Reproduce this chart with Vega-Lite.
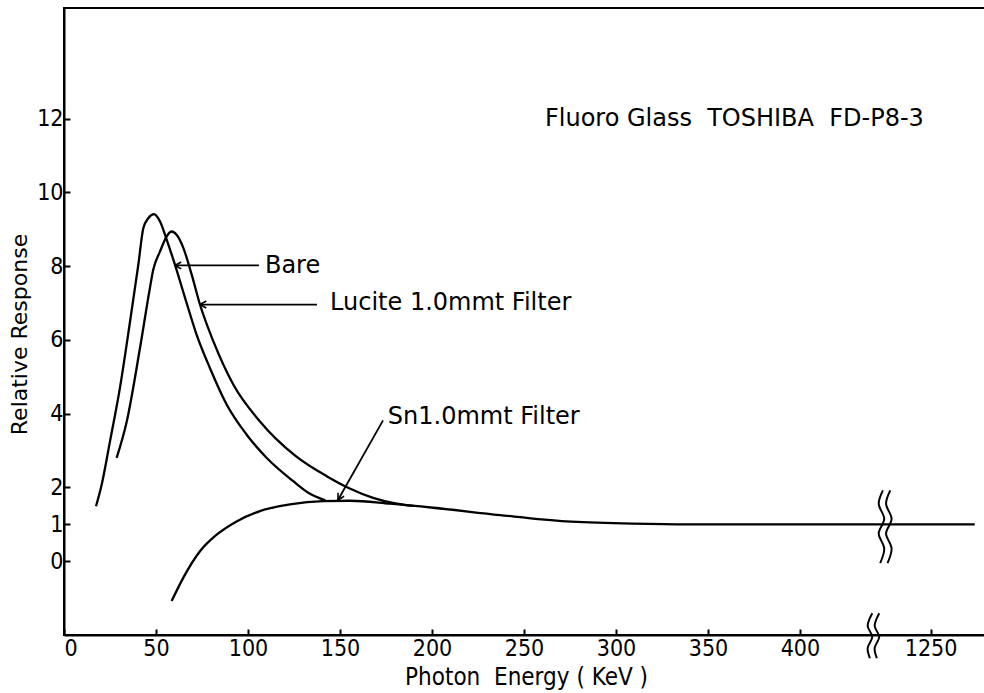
{
  "$schema": "https://vega.github.io/schema/vega-lite/v6.json",
  "width": 924,
  "height": 627,
  "autosize": "none",
  "padding": {"left": 64, "top": 8, "right": 0, "bottom": 58},
  "background": "white",
  "config": {
    "font": "DejaVu Sans",
    "view": {"stroke": "black", "strokeWidth": 2},
    "axis": {
      "grid": false,
      "domainColor": "black",
      "domainWidth": 2,
      "tickColor": "black",
      "tickWidth": 2,
      "tickSize": -6,
      "labelColor": "black",
      "labelFontSize": 23,
      "labelFont": "Liberation Sans Narrow, DejaVu Sans Condensed, sans-serif",
      "titleColor": "black",
      "titleFont": "DejaVu Sans Condensed, DejaVu Sans, sans-serif",
      "titleFontWeight": "normal",
      "titleFontSize": 24
    }
  },
  "datasets": {
    "curves": [
      {"series": "Bare", "x": 17.4, "y": 1.49},
      {"series": "Bare", "x": 20.5, "y": 2.08},
      {"series": "Bare", "x": 25.0, "y": 3.25},
      {"series": "Bare", "x": 30.4, "y": 4.7},
      {"series": "Bare", "x": 35.9, "y": 6.5},
      {"series": "Bare", "x": 40.4, "y": 8.04},
      {"series": "Bare", "x": 43.1, "y": 9.03},
      {"series": "Bare", "x": 45.8, "y": 9.3},
      {"series": "Bare", "x": 48.9, "y": 9.41},
      {"series": "Bare", "x": 52.2, "y": 9.21},
      {"series": "Bare", "x": 55.8, "y": 8.72},
      {"series": "Bare", "x": 60.3, "y": 8.04},
      {"series": "Bare", "x": 65.8, "y": 7.14},
      {"series": "Bare", "x": 72.1, "y": 6.14},
      {"series": "Bare", "x": 79.3, "y": 5.24},
      {"series": "Bare", "x": 88.4, "y": 4.25},
      {"series": "Bare", "x": 99.3, "y": 3.43},
      {"series": "Bare", "x": 110.2, "y": 2.8},
      {"series": "Bare", "x": 124.6, "y": 2.17},
      {"series": "Bare", "x": 133.0, "y": 1.85},
      {"series": "Bare", "x": 142.0, "y": 1.65},
      {"series": "Lucite", "x": 28.6, "y": 2.8},
      {"series": "Lucite", "x": 34.1, "y": 3.79},
      {"series": "Lucite", "x": 41.3, "y": 5.78},
      {"series": "Lucite", "x": 46.7, "y": 7.41},
      {"series": "Lucite", "x": 48.5, "y": 7.9},
      {"series": "Lucite", "x": 52.2, "y": 8.4},
      {"series": "Lucite", "x": 55.8, "y": 8.81},
      {"series": "Lucite", "x": 58.5, "y": 8.94},
      {"series": "Lucite", "x": 61.2, "y": 8.85},
      {"series": "Lucite", "x": 64.9, "y": 8.49},
      {"series": "Lucite", "x": 69.4, "y": 7.77},
      {"series": "Lucite", "x": 73.9, "y": 6.96},
      {"series": "Lucite", "x": 81.2, "y": 5.96},
      {"series": "Lucite", "x": 92.0, "y": 4.79},
      {"series": "Lucite", "x": 106.5, "y": 3.79},
      {"series": "Lucite", "x": 126.0, "y": 2.85},
      {"series": "Lucite", "x": 143.0, "y": 2.3},
      {"series": "Lucite", "x": 155.0, "y": 1.98},
      {"series": "Lucite", "x": 168.0, "y": 1.72},
      {"series": "Lucite", "x": 180.0, "y": 1.57},
      {"series": "Lucite", "x": 190.0, "y": 1.5},
      {"series": "Sn", "x": 58.5, "y": -1.08},
      {"series": "Sn", "x": 64.8, "y": -0.45},
      {"series": "Sn", "x": 73.9, "y": 0.27},
      {"series": "Sn", "x": 83.0, "y": 0.72},
      {"series": "Sn", "x": 93.8, "y": 1.08},
      {"series": "Sn", "x": 106.5, "y": 1.36},
      {"series": "Sn", "x": 122.8, "y": 1.54},
      {"series": "Sn", "x": 140.9, "y": 1.63},
      {"series": "Sn", "x": 155.4, "y": 1.64},
      {"series": "Sn", "x": 177.2, "y": 1.56},
      {"series": "Sn", "x": 200.7, "y": 1.45},
      {"series": "Sn", "x": 237.0, "y": 1.25},
      {"series": "Sn", "x": 273.0, "y": 1.08},
      {"series": "Sn", "x": 309.0, "y": 1.02},
      {"series": "Sn", "x": 340.0, "y": 1.0},
      {"series": "Sn", "x": 400.0, "y": 1.0},
      {"series": "Sn", "x": 495.0, "y": 1.0}
    ],
    "arrows": [
      {"id": "Bare", "x": 60.3, "y": 8.02, "x2": 106.0, "y2": 8.02},
      {"id": "Lucite", "x": 73.9, "y": 6.96, "x2": 137.5, "y2": 6.96},
      {"id": "Sn", "x": 148.9, "y": 1.66, "x2": 173.4, "y2": 3.82}
    ],
    "breaks": [
      {"id": "c1", "i": 0, "x": 445.1, "y": 1.92},
      {"id": "c1", "i": 1, "x": 442.8, "y": 1.55},
      {"id": "c1", "i": 2, "x": 445.8, "y": 1.15},
      {"id": "c1", "i": 3, "x": 442.8, "y": 0.75},
      {"id": "c1", "i": 4, "x": 445.8, "y": 0.35},
      {"id": "c1", "i": 5, "x": 443.6, "y": -0.05},
      {"id": "c2", "i": 0, "x": 449.1, "y": 1.92},
      {"id": "c2", "i": 1, "x": 446.8, "y": 1.55},
      {"id": "c2", "i": 2, "x": 449.8, "y": 1.15},
      {"id": "c2", "i": 3, "x": 446.8, "y": 0.75},
      {"id": "c2", "i": 4, "x": 449.8, "y": 0.35},
      {"id": "c2", "i": 5, "x": 447.6, "y": -0.05},
      {"id": "a1", "i": 0, "x": 439.3, "y": -1.41},
      {"id": "a1", "i": 1, "x": 436.8, "y": -1.75},
      {"id": "a1", "i": 2, "x": 439.3, "y": -2.05},
      {"id": "a1", "i": 3, "x": 436.8, "y": -2.35},
      {"id": "a1", "i": 4, "x": 438.0, "y": -2.63},
      {"id": "a2", "i": 0, "x": 443.1, "y": -1.41},
      {"id": "a2", "i": 1, "x": 440.6, "y": -1.75},
      {"id": "a2", "i": 2, "x": 443.1, "y": -2.05},
      {"id": "a2", "i": 3, "x": 440.6, "y": -2.35},
      {"id": "a2", "i": 4, "x": 441.8, "y": -2.63}
    ],
    "notes": [
      {"x": 261.4, "y": 12.0, "text": "Fluoro Glass\u00a0\u00a0TOSHIBA\u00a0\u00a0FD-P8-3"},
      {"x": 109.2, "y": 8.0, "text": "Bare"},
      {"x": 144.6, "y": 7.0, "text": "Lucite 1.0mmt Filter"},
      {"x": 176.0, "y": 3.92, "text": "Sn1.0mmt Filter"}
    ]
  },
  "encoding": {
    "x": {
      "field": "x",
      "type": "quantitative",
      "scale": {"domain": [0, 502.2], "nice": false, "zero": false},
      "axis": {
        "title": "Photon\u00a0\u00a0Energy ( KeV )",
        "values": [0, 50, 100, 150, 200, 250, 300, 350, 400, 471],
        "labelExpr": "datum.value > 450 ? '1250' : datum.label",
        "labelPadding": 8,
        "titlePadding": 5
      }
    },
    "y": {
      "field": "y",
      "type": "quantitative",
      "scale": {"domain": [-2, 15], "nice": false, "zero": false},
      "axis": {
        "title": "Relative Response",
        "values": [0, 1, 2, 4, 6, 8, 10, 12],
        "labelPadding": 7,
        "titleFont": "DejaVu Sans",
        "titleFontSize": 22,
        "titleX": -45,
        "titleY": 326,
        "titleAngle": 270,
        "titleAlign": "center",
        "titleBaseline": "middle"
      }
    }
  },
  "layer": [
    {
      "data": {"name": "curves"},
      "mark": {"type": "line", "interpolate": "monotone", "color": "black", "strokeWidth": 2.3},
      "encoding": {"detail": {"field": "series"}}
    },
    {
      "data": {"name": "arrows"},
      "mark": {"type": "rule", "color": "black", "strokeWidth": 1.8},
      "encoding": {"x2": {"field": "x2"}, "y2": {"field": "y2"}}
    },
    {
      "data": {"name": "arrows"},
      "transform": [{"filter": "datum.id !== 'Sn'"}],
      "mark": {"type": "point", "shape": "M0,0L1,-0.55M0,0L1,0.55", "filled": false, "stroke": "black", "strokeWidth": 1.6, "size": 160, "opacity": 1}
    },
    {
      "data": {"name": "arrows"},
      "transform": [{"filter": "datum.id === 'Sn'"}],
      "mark": {"type": "point", "shape": "M0,0L1,-0.55M0,0L1,0.55", "angle": 299.4, "filled": false, "stroke": "black", "strokeWidth": 1.6, "size": 160, "opacity": 1}
    },
    {
      "data": {"name": "breaks"},
      "mark": {"type": "line", "interpolate": "cardinal", "color": "black", "strokeWidth": 2},
      "encoding": {"detail": {"field": "id"}, "order": {"field": "i"}}
    },
    {
      "data": {"name": "notes"},
      "mark": {"type": "text", "align": "left", "baseline": "middle", "font": "DejaVu Sans", "fontSize": 24, "color": "black"},
      "encoding": {"text": {"field": "text"}}
    }
  ]
}
